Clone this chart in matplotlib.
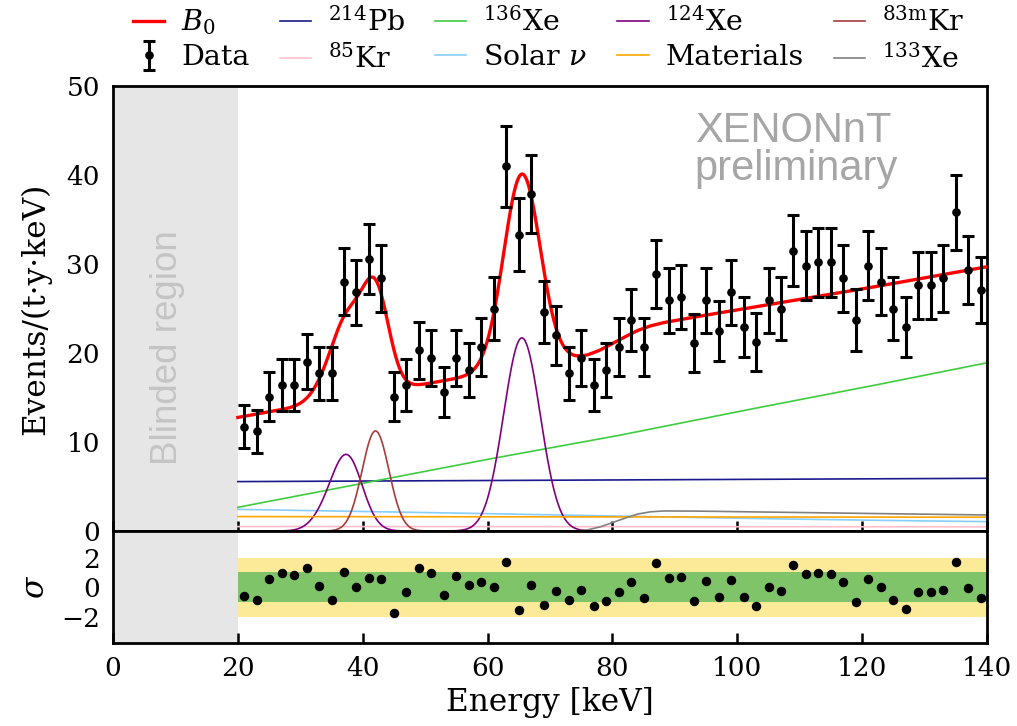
import numpy as np
import matplotlib
matplotlib.use("Agg")
import matplotlib.pyplot as plt

plt.rcParams['font.family'] = ['DejaVu Serif']
plt.rcParams['mathtext.fontset'] = 'dejavuserif'

# ---------------- data ----------------
energy = [21, 23, 25, 27, 29, 31, 33, 35, 37, 39, 41, 43, 45, 47, 49, 51, 53, 55, 57, 59,
          61, 63, 65, 67, 69, 71, 73, 75, 77, 79, 81, 83, 85, 87, 89, 91, 93, 95, 97, 99,
          101, 103, 105, 107, 109, 111, 113, 115, 117, 119, 121, 123, 125, 127, 129, 131, 133, 135, 137, 139]
rate = [11.7, 11.2, 15.1, 16.4, 16.4, 19.0, 17.7, 17.7, 28.0, 26.8, 30.6, 28.4, 15.1, 16.4, 20.3, 19.4, 15.6, 19.4, 18.1, 20.7,
        25.0, 41.0, 33.3, 37.9, 24.6, 22.0, 17.7, 19.4, 16.4, 18.1, 20.7, 23.7, 20.7, 28.9, 25.9, 26.3, 21.1, 25.9, 22.5, 26.8,
        22.9, 21.2, 25.9, 25.0, 31.5, 29.8, 30.2, 30.2, 28.4, 23.7, 29.8, 28.0, 25.0, 22.9, 27.6, 27.6, 28.4, 35.8, 29.3, 27.1]
rate_err = [2.43, 2.38, 2.76, 2.88, 2.88, 3.09, 2.99, 2.99, 3.76, 3.68, 3.93, 3.78, 2.76, 2.88, 3.2, 3.13, 2.8, 3.13, 3.02, 3.23,
            3.55, 4.55, 4.1, 4.37, 3.52, 3.33, 2.99, 3.13, 2.88, 3.02, 3.23, 3.46, 3.23, 3.82, 3.61, 3.64, 3.26, 3.61, 3.37, 3.68,
            3.4, 3.27, 3.61, 3.55, 3.98, 3.88, 3.9, 3.9, 3.78, 3.46, 3.88, 3.76, 3.55, 3.4, 3.73, 3.73, 3.78, 4.25, 3.84, 3.7]
residual = [-0.57, -0.84, 0.57, 0.96, 0.84, 1.3, 0.05, -0.84, 1.05, -0.01, 0.62, 0.57, -1.77, -0.33, 1.3, 0.93, -0.5, 0.75, 0.12, 0.33,
            -0.01, 1.72, -1.54, 0.17, -1.18, -0.24, -0.84, -0.19, -1.27, -0.91, -0.35, 0.35, -0.71, 1.61, 0.62, 0.66, -0.91, 0.39, -0.69, 0.51,
            -0.69, -1.25, 0.03, -0.28, 1.47, 0.91, 0.96, 0.89, 0.35, -1.0, 0.55, 0.01, -0.84, -1.5, -0.3, -0.35, -0.19, 1.7, -0.08, -0.71]

# background components (energy knots, rate values)
pb214_E = [20, 140]
pb214_v = [5.55, 5.92]
xe136_E = [20, 40, 60, 80, 100, 120, 140]
xe136_v = [2.66, 5.36, 8.05, 10.6, 13.4, 16.1, 18.9]
solar_E = [20, 40, 60, 80, 100, 120, 140]
solar_v = [2.43, 2.2, 1.95, 1.7, 1.43, 1.22, 1.05]
materials_E = [20, 140]
materials_v = [1.62, 1.55]
kr85_E = [20, 140]
kr85_v = [0.5, 0.47]
xe133_E = [20, 74, 76, 78, 80, 82, 84, 86, 88, 92, 100, 120, 140]
xe133_v = [0.0, 0.0, 0.12, 0.45, 0.95, 1.45, 1.9, 2.15, 2.25, 2.25, 2.17, 1.98, 1.8]
# peak components (centre keV, sigma keV, amplitude)
xe124_center = [33.8, 37.5, 65.5]
xe124_sigma = [2.2, 2.45, 2.92]
xe124_amp = [1.2, 8.3, 21.7]
kr83m_center = [42.05]
kr83m_sigma = [2.15]
kr83m_amp = [11.24]

xticks = [0, 20, 40, 60, 80, 100, 120, 140]
yticks = [0, 10, 20, 30, 40, 50]

# ---------------- model curves ----------------
E = np.linspace(20, 140, 1201)

def peaks(c, s, a):
    out = np.zeros_like(E)
    for ci, si, ai in zip(c, s, a):
        out += ai * np.exp(-0.5 * ((E - ci) / si) ** 2)
    return out

c_pb = np.interp(E, pb214_E, pb214_v)
c_136 = np.interp(E, xe136_E, xe136_v)
c_sol = np.interp(E, solar_E, solar_v)
c_mat = np.interp(E, materials_E, materials_v)
c_85 = np.interp(E, kr85_E, kr85_v)
c_133 = np.interp(E, xe133_E, xe133_v)
c_124 = peaks(xe124_center, xe124_sigma, xe124_amp)
c_83 = peaks(kr83m_center, kr83m_sigma, kr83m_amp)
b0 = c_pb + c_136 + c_sol + c_mat + c_85 + c_133 + c_124 + c_83

# ---------------- figure ----------------
W, H = 1017, 726
fig = plt.figure(figsize=(W / 100, H / 100), dpi=100)
L, R = 113, 987
ax = fig.add_axes([L / W, 1 - 531 / H, (R - L) / W, (531 - 86) / H])
ax2 = fig.add_axes([L / W, 1 - 643.3 / H, (R - L) / W, (643.3 - 531) / H])

for a in (ax, ax2):
    a.axvspan(0, 20, color='#e6e6e6', lw=0, zorder=0)
    for sp in a.spines.values():
        sp.set_linewidth(2.0)
    a.set_xlim(0, 140)
    a.set_xticks(xticks)

lw = 1.2
h_b0, = ax.plot(E, b0, color='#ff0000', lw=2.4, zorder=5, label='$B_0$')
h_pb, = ax.plot(E, c_pb, color='#1a1a8c', lw=lw, label='$^{214}$Pb')
h_85, = ax.plot(E, c_85, color='#ffc0cb', lw=lw, label='$^{85}$Kr')
h_136, = ax.plot(E, c_136, color='#3fcc3f', lw=lw, label='$^{136}$Xe')
h_sol, = ax.plot(E, c_sol, color='#87cefa', lw=lw, label=r'Solar $\nu$')
h_124, = ax.plot(E, c_124, color='#800080', lw=lw, label='$^{124}$Xe')
h_mat, = ax.plot(E, c_mat, color='#ffa500', lw=lw, label='Materials')
h_83, = ax.plot(E, c_83, color='#a83c3c', lw=lw, label=r'$^{83\mathrm{m}}$Kr')
h_133, = ax.plot(E, c_133, color='#808080', lw=lw, label='$^{133}$Xe')

h_data = ax.errorbar(energy, rate, yerr=rate_err, fmt='o', color='black', ms=5.2,
                     elinewidth=2.2, capsize=4, capthick=2.2, zorder=6, label='Data')

ax.set_ylim(0, 50)
ax.set_yticks(yticks)
ax.tick_params(axis='x', direction='in', length=7, width=1.8, labelbottom=False)
ax.tick_params(axis='y', length=0, pad=9.5, labelsize=19)
ax.set_ylabel('Events/(t·y·keV)', fontsize=22.5)
ax.yaxis.set_label_coords(-0.071, 0.5)

ax.text(8.65, 20.6, 'Blinded region', rotation=90, ha='center', va='center',
        color='#c4c4c4', fontsize=26.5, family='Liberation Sans')
ax.text(93.2, 43.74, 'XENONnT', ha='left', va='baseline', color='#a6a6a6',
        fontsize=30, family='Liberation Sans')
ax.text(93.2, 39.44, 'preliminary', ha='left', va='baseline', color='#a6a6a6',
        fontsize=30, family='Liberation Sans')

# residual panel
ax2.fill_between([20, 140], -2, 2, color='#fdea98', lw=0, zorder=1)
ax2.fill_between([20, 140], -1, 1, color='#80c46a', lw=0, zorder=2)
ax2.plot(energy, residual, 'o', color='black', ms=5.8, zorder=5)
ax2.set_ylim(-3.8, 3.8)
ax2.set_yticks([-2, 0, 2])
ax2.tick_params(axis='x', direction='in', length=7, width=1.8, pad=9.5, labelsize=19)
ax2.tick_params(axis='y', length=0, pad=9.5, labelsize=19)
ax2.set_ylabel(r'$\sigma$', fontsize=22.5)
ax2.yaxis.set_label_coords(-0.071, 0.5)
ax2.set_xlabel('Energy [keV]', fontsize=22.5, labelpad=4)

handles = [h_b0, h_data, h_pb, h_85, h_136, h_sol, h_124, h_mat, h_83, h_133]
fig.legend(handles=handles, labels=[h.get_label() for h in handles], ncol=5,
           loc='upper left', bbox_to_anchor=(133 / W, 1 - 7 / H), frameon=False,
           fontsize=20.5, handlelength=1.1, handletextpad=0.6, columnspacing=1.05,
           labelspacing=0.25, borderpad=0, borderaxespad=0)

fig.savefig('out.png', dpi=100)
